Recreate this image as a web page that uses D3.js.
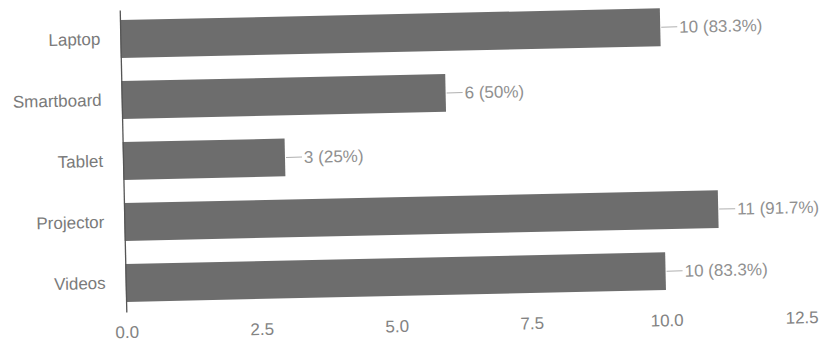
<!DOCTYPE html>
<html>
<head>
<meta charset="utf-8">
<script src="https://cdn.jsdelivr.net/npm/d3@7"></script>
<style>
  html, body { margin: 0; padding: 0; background: #ffffff; }
  svg { display: block; font-family: "Liberation Sans", Arial, sans-serif; }
</style>
</head>
<body>
<svg id="chart" width="823" height="341"></svg>
<script>
// Devices used in class: count of respondents and share of the 12 surveyed
const categories = ["Laptop", "Smartboard", "Tablet", "Projector", "Videos"];
const counts = [10, 6, 3, 11, 10];
const percents = ["83.3%", "50%", "25%", "91.7%", "83.3%"];
const xTicks = [0, 2.5, 5, 7.5, 10, 12.5];

const svg = d3.select("#chart");

// The whole plot sits slightly tilted on the page
const g = svg.append("g").attr("transform", "rotate(-1.25, 123, 160)");

const x = d3.scaleLinear().domain([0, 12.5]).range([123, 798]);
const y = d3.scaleBand()
  .domain(categories)
  .range([10, 312])
  .paddingInner(0.38)
  .paddingOuter(0.165);

// Bars
g.append("g")
  .selectAll("rect")
  .data(categories)
  .join("rect")
  .attr("x", x(0))
  .attr("y", d => y(d))
  .attr("width", (d, i) => x(counts[i]) - x(0))
  .attr("height", y.bandwidth())
  .attr("fill", "#6d6d6d");

// Category axis
const yAxis = g.append("g")
  .attr("transform", `translate(${x(0)},0)`)
  .call(d3.axisLeft(y).tickSize(0).tickSizeOuter(0).tickPadding(20));
yAxis.select(".domain").attr("stroke", "#555").attr("stroke-width", 1.3);
yAxis.selectAll("text")
  .attr("font-size", 17)
  .attr("fill", "#7a7a7a")
  .attr("font-family", "Liberation Sans, Arial, sans-serif");

// Value axis: labels only
const xAxis = g.append("g")
  .attr("transform", "translate(0,312)")
  .call(d3.axisBottom(x).tickValues(xTicks).tickFormat(d3.format(".1f")).tickSize(0).tickPadding(14));
xAxis.select(".domain").remove();
xAxis.selectAll("text")
  .attr("font-size", 17)
  .attr("fill", "#838383")
  .attr("font-family", "Liberation Sans, Arial, sans-serif");

// Value labels with short leader lines
const labels = g.append("g")
  .selectAll("g")
  .data(categories)
  .join("g")
  .attr("transform", (d, i) => `translate(${x(counts[i])},${y(d) + y.bandwidth() / 2})`);

labels.append("line")
  .attr("x1", 1)
  .attr("x2", 17)
  .attr("stroke", "#b0b0b0")
  .attr("stroke-width", 1);

labels.append("text")
  .attr("x", 19)
  .attr("dy", "0.35em")
  .attr("font-size", 17)
  .attr("fill", "#909090")
  .text((d, i) => `${counts[i]} (${percents[i]})`);
</script>
</body>
</html>
